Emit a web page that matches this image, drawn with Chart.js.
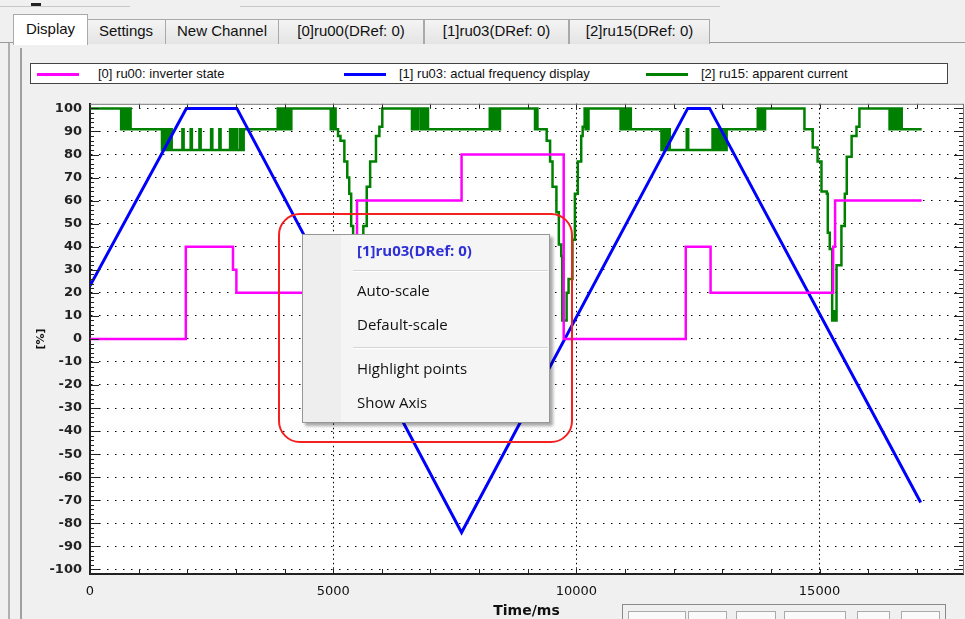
<!DOCTYPE html>
<html>
<head>
<meta charset="utf-8">
<script src="https://cdn.jsdelivr.net/npm/chart.js@4.4.0/dist/chart.umd.min.js"></script>
<style>
  html, body { margin: 0; padding: 0; width: 965px; height: 619px; overflow: hidden; background: #f0f0f0; font-family: "Liberation Sans", Arial, sans-serif; }
  .abs { position: absolute; box-sizing: border-box; }
  .tab { position: absolute; top: 19px; height: 24px; border: 1px solid #a9a9a9; border-bottom: none;
         background: linear-gradient(#f4f4f4, #e4e4e4); font-size: 15px; line-height: 22px; text-align: center; color: #111; }
  .tab.sel { top: 14px; height: 30px; background: #fff; line-height: 28px; z-index: 2; }
  #legend { left: 30px; top: 63px; width: 918px; height: 21px; border: 1px solid #444; background: #fff; }
  .lg-line { position: absolute; top: 9px; height: 3px; width: 42px; }
  .lg-text { position: absolute; top: 2px; font-size: 13px; color: #111; white-space: nowrap; }
  #chartWrap { left: 20px; top: 88px; width: 945px; height: 540px; }
  #menu { left: 302px; top: 234px; width: 248px; height: 189px; background: #f5f5f5; border: 1px solid #979797;
          box-shadow: 3px 3px 3px rgba(0,0,0,0.35); font-family: "Open Sans", sans-serif; font-size: 15px; color: #111; }
  #menu .gutter { position: absolute; left: 0; top: 0; width: 38px; height: 100%; background: #eeeeee; }
  #menu .item { position: absolute; left: 54px; height: 20px; line-height: 20px; white-space: nowrap; }
  #menu .sep { position: absolute; left: 50px; width: 195px; height: 1px; background: #d5d5d5; border-bottom: 1px solid #fff; }
  #redbox { left: 278px; top: 213px; width: 295px; height: 230px; border: 2.5px solid #f52020; border-radius: 22px; }
  .tbox { position: absolute; top: 611px; height: 20px; border: 1px solid #aaa; background: #fafafa; }
</style>
</head>
<body>
<div class="abs" style="left:0;top:6px;width:130px;height:1px;background:#c8c8c8"></div>
<div class="abs" style="left:31px;top:3px;width:10px;height:3px;background:#222"></div>
<div class="abs" style="left:240px;top:6px;width:480px;height:1px;background:#c8c8c8"></div>
<div class="abs" style="left:0;top:42px;width:965px;height:1px;background:#9a9a9a"></div>
<div class="abs" style="left:8px;top:43px;width:2px;height:580px;background:#b0b0b0"></div>
<div class="abs" style="left:20px;top:48px;width:2px;height:580px;background:#a0a0a0"></div>

<div class="tab sel" style="left:13px;width:73px">Display</div>
<div class="tab" style="left:86px;width:78px">Settings</div>
<div class="tab" style="left:165px;width:112px">New Channel</div>
<div class="tab" style="left:278px;width:144px">[0]ru00(DRef: 0)</div>
<div class="tab" style="left:424px;width:143px">[1]ru03(DRef: 0)</div>
<div class="tab" style="left:569px;width:139px">[2]ru15(DRef: 0)</div>

<div id="legend" class="abs"></div>

<div id="chartWrap" class="abs"><canvas id="grafico" width="945" height="540"></canvas></div>

<div id="redbox" class="abs"></div>
<div id="menu" class="abs">
  <div class="gutter"></div>
  <div class="item" style="top:5px;font-weight:bold;color:#2f2fd6">[1]ru03(DRef: 0)</div>
  <div class="sep" style="top:35px"></div>
  <div class="item" style="top:45px">Auto-scale</div>
  <div class="item" style="top:79px">Default-scale</div>
  <div class="sep" style="top:112px"></div>
  <div class="item" style="top:123px">Highlight points</div>
  <div class="item" style="top:157px">Show Axis</div>
</div>

<div class="abs" style="left:622px;top:604px;width:324px;height:30px;border:1px solid #8a8a8a;background:#f0f0f0"></div>
<div class="tbox" style="left:628px;width:56px"></div>
<div class="tbox" style="left:688px;width:37px"></div>
<div class="tbox" style="left:736px;width:38px"></div>
<div class="tbox" style="left:784px;width:60px"></div>
<div class="tbox" style="left:857px;width:31px"></div>
<div class="tbox" style="left:901px;width:37px"></div>

<script>
// series labels and colours
const labels = ['[0] ru00: inverter state', '[1] ru03: actual frequency display', '[2] ru15: apparent current'];
const colors = ['#ff00ff', '#0000ff', '#008000'];

// axis ticks
const xTicks = [0, 5000, 10000, 15000];
const yTicks = [-100, -90, -80, -70, -60, -50, -40, -30, -20, -10, 0, 10, 20, 30, 40, 50, 60, 70, 80, 90, 100];

// [time ms, %] – stepped: value holds until next point
const ru00 = [[0, 0], [1970, 40], [2940, 30], [3010, 20], [5490, 60], [7640, 80], [9740, 0],
  [12250, 40], [12760, 20], [15280, 40], [15320, 60], [17100, 60]];

// [time ms, %] – ramps
const ru03 = [[0, 23], [1980, 100], [3020, 100], [7640, -84], [12290, 100], [12740, 100], [17080, -71]];

// [time ms, %] – stepped, lots of toggling
const ru15 = [[0, 100],
  [640, 91], [665, 100], [690, 91], [715, 100], [740, 91], [765, 100], [790, 91], [815, 100], [835, 91],
  [1480, 82], [1505, 91], [1530, 82], [1555, 91], [1580, 82], [1605, 91], [1630, 82], [1655, 91], [1680, 82],
  [1900, 91], [1925, 82], [2070, 91], [2095, 82], [2250, 91], [2275, 82], [2490, 91], [2515, 82], [2660, 91], [2685, 82],
  [2880, 91], [2900, 82], [2920, 91], [2940, 82], [2960, 91], [2980, 82], [3000, 91], [3020, 82],
  [3080, 91], [3100, 82], [3120, 91], [3140, 82], [3160, 91],
  [3860, 100], [3885, 91], [3910, 100], [3935, 91], [3960, 100], [3985, 91], [4010, 100], [4040, 91], [4070, 100], [4100, 91], [4140, 100],
  [4950, 91], [4975, 100], [5000, 91], [5025, 100], [5050, 91],
  [5100, 88], [5150, 86], [5230, 77], [5290, 70], [5330, 63], [5370, 49], [5410, 40], [5460, 32], [5560, 38], [5620, 49],
  [5690, 66], [5760, 77], [5880, 88], [5950, 92], [6010, 100],
  [6620, 91], [6645, 100], [6670, 91], [6695, 100], [6720, 91], [6745, 100],
  [6800, 91], [6825, 100], [6850, 91], [6875, 100], [6900, 91], [6925, 100], [6950, 91],
  [8220, 100], [8245, 91], [8270, 100], [8295, 91], [8320, 100], [8345, 91], [8370, 100], [8395, 91], [8430, 100],
  [9150, 91], [9175, 100], [9200, 91],
  [9390, 86], [9460, 77], [9510, 66], [9590, 55], [9640, 41], [9690, 36], [9710, 8], [9800, 20], [9840, 26],
  [9920, 43], [9970, 63], [10030, 77], [10100, 88], [10130, 92], [10170, 100],
  [10190, 91], [10210, 100], [10230, 91], [10250, 100],
  [10910, 91], [10935, 100], [10960, 91], [10985, 100], [11010, 91], [11035, 100], [11060, 91], [11085, 100], [11120, 91],
  [11750, 82], [11775, 91], [11800, 82], [11825, 91], [11850, 82], [11875, 91], [11920, 82],
  [12270, 91], [12300, 82],
  [12800, 91], [12825, 82], [12850, 91], [12875, 82], [12900, 91], [12925, 82], [12950, 91], [12975, 82], [13000, 91],
  [13025, 82], [13050, 91], [13070, 82], [13090, 91],
  [13730, 100], [13755, 91], [13780, 100], [13805, 91], [13830, 100], [13855, 91], [13880, 100],
  [14690, 91], [14860, 83], [14960, 77], [15040, 64], [15150, 63], [15170, 46], [15210, 39], [15260, 8], [15300, 12],
  [15330, 8], [15350, 32], [15450, 49], [15520, 63], [15560, 79], [15660, 88], [15760, 92], [15820, 100],
  [16440, 91], [16465, 100], [16490, 91], [16515, 100], [16540, 91], [16565, 100], [16590, 91], [16615, 100], [16640, 91],
  [16665, 100], [16690, 91], [17100, 91]];

const toXY = arr => arr.map(p => ({ x: p[0], y: p[1] }));

// legend (html, the items sit at fixed places like the original)
const legendPos = [[6, 67], [313, 368], [615, 670]];
const legend = document.getElementById('legend');
labels.forEach((txt, i) => {
  const ln = document.createElement('div');
  ln.className = 'lg-line';
  ln.style.left = legendPos[i][0] + 'px';
  ln.style.background = colors[i];
  const tx = document.createElement('div');
  tx.className = 'lg-text';
  tx.style.left = legendPos[i][1] + 'px';
  tx.textContent = txt;
  legend.appendChild(ln);
  legend.appendChild(tx);
});

// white plot background, inner tick marks, top/right frame
const moldura = {
  id: 'moldura',
  beforeDraw(chart) {
    const { ctx, chartArea: a } = chart;
    ctx.save();
    ctx.fillStyle = '#ffffff';
    ctx.fillRect(a.left, a.top, a.right - a.left, a.bottom - a.top);
    ctx.restore();
  },
  afterDraw(chart) {
    const { ctx, chartArea: a, scales } = chart;
    ctx.save();
    ctx.strokeStyle = '#222';
    ctx.lineWidth = 1;
    ctx.beginPath();
    for (let t = 1000; t < scales.x.max; t += 1000) {
      const px = Math.round(scales.x.getPixelForValue(t)) + 0.5;
      ctx.moveTo(px, a.bottom); ctx.lineTo(px, a.bottom - 5);
      ctx.moveTo(px, a.top); ctx.lineTo(px, a.top + 5);
    }
    for (let v = -100; v <= 100; v += 2) {
      const py = Math.round(scales.y.getPixelForValue(v)) + 0.5;
      const len = v % 10 === 0 ? 9 : 4;
      ctx.moveTo(a.left, py); ctx.lineTo(a.left + len, py);
      ctx.moveTo(a.right, py); ctx.lineTo(a.right - len, py);
    }
    ctx.stroke();
    ctx.strokeStyle = '#777';
    ctx.beginPath();
    ctx.moveTo(a.left, a.top + 0.5); ctx.lineTo(a.right + 0.5, a.top + 0.5);
    ctx.moveTo(a.right + 0.5, a.top); ctx.lineTo(a.right + 0.5, a.bottom);
    ctx.stroke();
    ctx.restore();
  }
};

new Chart(document.getElementById('grafico').getContext('2d'), {
  type: 'line',
  data: {
    datasets: [
      { label: labels[0], data: toXY(ru00), borderColor: colors[0], borderWidth: 2.5, stepped: true, pointRadius: 0 },
      { label: labels[1], data: toXY(ru03), borderColor: colors[1], borderWidth: 3, pointRadius: 0 },
      { label: labels[2], data: toXY(ru15), borderColor: colors[2], borderWidth: 2.5, stepped: true, pointRadius: 0 }
    ]
  },
  options: {
    responsive: false,
    animation: false,
    devicePixelRatio: 1,
    events: [],
    layout: { padding: { top: 12, right: 2, left: 0, bottom: 0 } },
    plugins: { legend: { display: false }, tooltip: { enabled: false } },
    scales: {
      x: {
        type: 'linear',
        min: 0,
        max: 17950,
        afterBuildTicks: s => { s.ticks = xTicks.map(v => ({ value: v })); },
        afterFit: s => { s.height = 54; },
        grid: { color: '#000', lineWidth: 1, drawTicks: false },
        border: { display: true, color: '#222', width: 2, dash: [1.5, 3] },
        ticks: { color: '#111', padding: 10, maxRotation: 0, font: { family: 'DejaVu Sans', size: 13 }, callback: v => String(v) },
        title: { display: true, text: 'Time/ms', color: '#111', font: { family: 'DejaVu Sans', size: 14, weight: 'bold' }, padding: { top: 0, bottom: 8 } }
      },
      y: {
        type: 'linear',
        min: -102,
        max: 102,
        afterBuildTicks: s => { s.ticks = yTicks.map(v => ({ value: v })); },
        afterFit: s => { s.width = 70; },
        grid: { color: '#000', lineWidth: 1, drawTicks: false },
        border: { display: true, color: '#222', width: 2, dash: [1.5, 6.5] },
        ticks: { color: '#222', padding: 8, font: { family: 'DejaVu Sans', size: 13, weight: 'bold' } },
        title: { display: true, text: '[%]', color: '#111', font: { family: 'DejaVu Sans', size: 11, weight: 'bold' }, padding: { top: 15, bottom: 0 } }
      }
    }
  },
  plugins: [moldura]
});
</script>
</body>
</html>
